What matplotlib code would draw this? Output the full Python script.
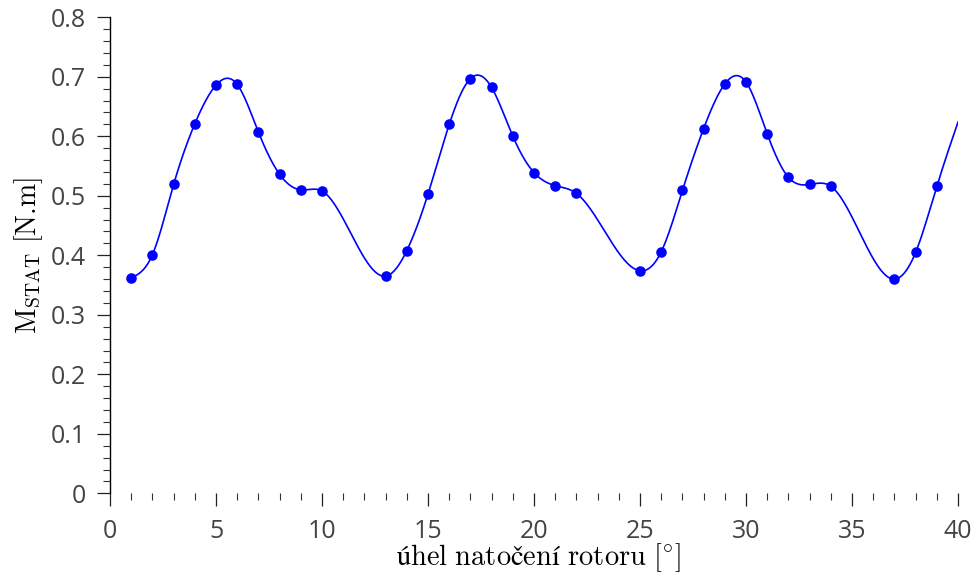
import numpy as np
import matplotlib
matplotlib.use("Agg")
import matplotlib.pyplot as plt
from matplotlib.ticker import MultipleLocator

# measured static torque vs. rotor angle
angle = [1, 2, 3, 4, 5, 6, 7, 8, 9, 10,
         13, 14, 15, 16, 17, 18, 19, 20, 21, 22,
         25, 26, 27, 28, 29, 30, 31, 32, 33, 34,
         37, 38, 39]
torque = [0.362, 0.401, 0.519, 0.621, 0.686, 0.687, 0.607, 0.536, 0.510, 0.508,
          0.365, 0.408, 0.503, 0.620, 0.697, 0.682, 0.600, 0.539, 0.517, 0.504,
          0.374, 0.406, 0.509, 0.613, 0.688, 0.691, 0.604, 0.531, 0.519, 0.516,
          0.360, 0.405, 0.516]
# end of the fitted curve (no measurement marker there)
curve_end_angle = 40
curve_end_torque = 0.624

x_ticks = [0, 5, 10, 15, 20, 25, 30, 35, 40]
y_ticks = [0, 0.1, 0.2, 0.3, 0.4, 0.5, 0.6, 0.7, 0.8]
y_tick_labels = ["0", "0.1", "0.2", "0.3", "0.4", "0.5", "0.6", "0.7", "0.8"]


def natural_spline(xk, yk, xs):
    xk = np.asarray(xk, float)
    yk = np.asarray(yk, float)
    n = len(xk)
    h = np.diff(xk)
    A = np.zeros((n, n))
    r = np.zeros(n)
    A[0, 0] = A[-1, -1] = 1
    for i in range(1, n - 1):
        A[i, i - 1] = h[i - 1]
        A[i, i] = 2 * (h[i - 1] + h[i])
        A[i, i + 1] = h[i]
        r[i] = 3 * ((yk[i + 1] - yk[i]) / h[i] - (yk[i] - yk[i - 1]) / h[i - 1])
    c = np.linalg.solve(A, r)
    b = (yk[1:] - yk[:-1]) / h - h * (2 * c[:-1] + c[1:]) / 3
    d = (c[1:] - c[:-1]) / (3 * h)
    idx = np.clip(np.searchsorted(xk, xs) - 1, 0, n - 2)
    dx = xs - xk[idx]
    return yk[idx] + b[idx] * dx + c[idx] * dx ** 2 + d[idx] * dx ** 3


plt.rcParams["mathtext.fontset"] = "cm"
label_font = ["cmr10", "STIXGeneral", "DejaVu Serif"]

fig = plt.figure(figsize=(9.78, 5.75), dpi=100)
ax = fig.add_axes([0.1125, 0.142, 0.8671, 0.828])

xk = angle + [curve_end_angle]
yk = torque + [curve_end_torque]
xs = np.linspace(xk[0], xk[-1], 800)
ax.plot(xs, natural_spline(xk, yk, xs), color="#0000ff", lw=1.2)
ax.plot(angle, torque, "o", color="#0000ff", ms=7.6, mec="none")

ax.set_xlim(0, 40)
ax.set_ylim(0, 0.8)
ax.set_xticks(x_ticks)
ax.set_yticks(y_ticks)
ax.set_yticklabels(y_tick_labels)
ax.xaxis.set_minor_locator(MultipleLocator(1))
ax.yaxis.set_minor_locator(MultipleLocator(0.02))

for s in ["top", "right", "bottom"]:
    ax.spines[s].set_visible(False)
ax.spines["left"].set_linewidth(1.0)

ax.tick_params(which="major", direction="out", length=9.5, width=0.9,
               color="#222222", labelsize=18, labelcolor="#444444", pad=8)
ax.tick_params(axis="x", which="major", pad=9)
ax.tick_params(which="minor", direction="out", length=5, width=0.8, color="#333333")
for lab in ax.get_xticklabels() + ax.get_yticklabels():
    lab.set_fontfamily("Open Sans")

# x label placed by its baseline under the axis
fig.text(0.551, 0.0165, r"$\mathrm{úhel\ natočení\ rotoru\ [^{\circ}]}$",
         fontsize=20.5, ha="center", va="baseline")
ax.set_ylabel(r"$\mathrm{M_{STAT}}$ [N.m]", family=label_font, fontsize=20, labelpad=4)

fig.savefig("out.png", dpi=100)
